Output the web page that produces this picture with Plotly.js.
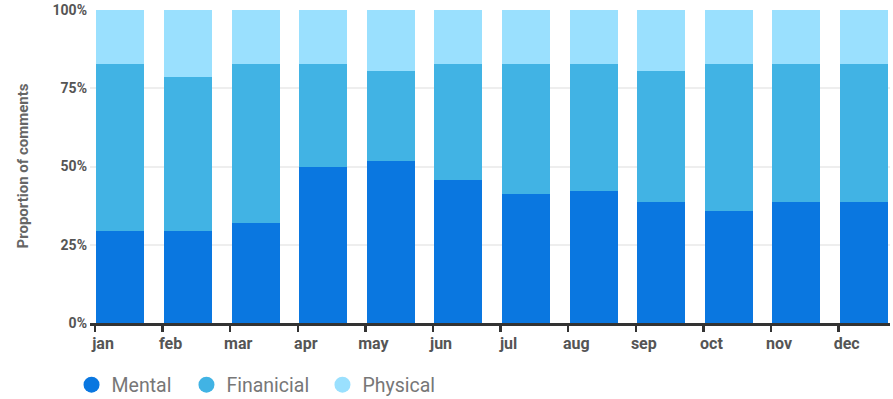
<!DOCTYPE html>
<html>
<head>
<meta charset="utf-8">
<script src="https://cdn.plot.ly/plotly-3.0.1.min.js"></script>
<style>html,body{margin:0;padding:0;background:#fff;}#chart{width:893px;height:399px;}</style>
</head>
<body>
<div id="chart"></div>
<script>
const months = ["jan","feb","mar","apr","may","jun","jul","aug","sep","oct","nov","dec"];
const mental     = [29.4, 29.4, 31.8, 50.0, 51.8, 45.6, 41.2, 42.1, 38.6, 35.9, 38.6, 38.6];
const financial  = [53.2, 49.3, 50.8, 32.6, 28.8, 37.0, 41.4, 40.5, 42.0, 46.7, 44.0, 44.0];
const physical   = [17.4, 21.3, 17.4, 17.4, 19.4, 17.4, 17.4, 17.4, 19.4, 17.4, 17.4, 17.4];
const seriesNames = ["Mental", "Finanicial", "Physical"];
const colors = ["#0A77E0", "#41B3E4", "#9AE0FE"];
const yTicks = [0, 25, 50, 75, 100];
const yTickText = ["0%", "25%", "50%", "75%", "100%"];
const yTitle = "Proportion of comments";

const seriesVals = [mental, financial, physical];
const legendIds = ["legend", "legend2", "legend3"];
const legendX = [0.0801, 0.2088, 0.3611];
const traces = [];
seriesVals.forEach((vals, k) => {
  traces.push({
    type: "bar", x: months, y: vals, name: seriesNames[k],
    marker: {color: colors[k], line: {width: 0}},
    offset: 0.02, width: 0.71, showlegend: false, hoverinfo: "x+y+name"
  });
});
seriesNames.forEach((n, k) => {
  traces.push({
    type: "scatter", mode: "markers", x: [null], y: [null], name: n,
    legend: legendIds[k],
    marker: {color: colors[k], size: 18, symbol: "circle"}, showlegend: true
  });
});

const legendBase = (x) => ({
  orientation: "h", xref: "container", yref: "container",
  x: x, xanchor: "left", y: 0.035, yanchor: "middle",
  font: {size: 19.5, color: "#777", family: "Roboto, sans-serif"},
  itemsizing: "trace", bgcolor: "rgba(0,0,0,0)", borderwidth: 0
});

const layout = {
  width: 893, height: 399,
  margin: {l: 90, r: 3, t: 10, b: 76.4},
  paper_bgcolor: "#fff", plot_bgcolor: "#fff",
  barmode: "stack", bargap: 0,
  font: {family: "Roboto, 'Open Sans', sans-serif", color: "#555"},
  xaxis: {
    type: "category", categoryorder: "array", categoryarray: months,
    range: [-0.074, 11.76], fixedrange: true, automargin: false,
    showline: true, linecolor: "#333", linewidth: 2.5,
    ticks: "outside", ticklen: 6, tickwidth: 2.5, tickcolor: "#333",
    ticklabelshift: 8, ticklabelstandoff: -2,
    tickfont: {size: 16, color: "#555", family: "Roboto, sans-serif", weight: "bold"},
    showgrid: false, zeroline: false
  },
  yaxis: {
    range: [0, 100], tickmode: "array", tickvals: yTicks, ticktext: yTickText,
    showgrid: true, gridcolor: "#eeeeee", gridwidth: 2, automargin: false,
    zeroline: false, showline: false, ticks: "", ticklabelstandoff: 2,
    tickfont: {size: 14, color: "#555", family: "Roboto, sans-serif", weight: "bold"},
    fixedrange: true
  },
  annotations: [{
    text: yTitle, xref: "paper", yref: "paper", x: -0.085, y: 0.5,
    xanchor: "center", yanchor: "middle", textangle: -90, showarrow: false,
    font: {size: 15, color: "#666", family: "Roboto, sans-serif", weight: "bold"}
  }],
  legend: legendBase(legendX[0]),
  legend2: legendBase(legendX[1]),
  legend3: legendBase(legendX[2]),
  showlegend: true
};

Plotly.newPlot("chart", traces, layout, {displayModeBar: false, staticPlot: true});
</script>
</body>
</html>
